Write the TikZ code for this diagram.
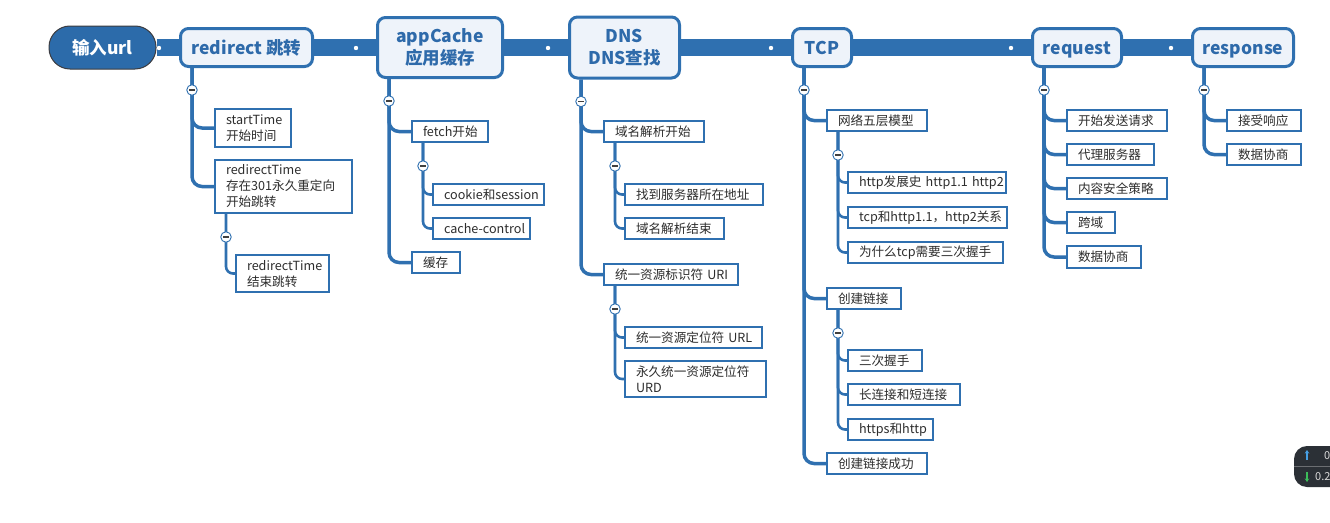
\documentclass[tikz,border=0pt]{standalone}
\usepackage{fontspec}
\setmainfont{Noto Sans CJK SC}
\usetikzlibrary{arrows.meta}
\definecolor{mblue}{RGB}{47,112,176}
\definecolor{topfill}{RGB}{238,243,250}
\definecolor{toptext}{RGB}{46,106,170}
\definecolor{rootfill}{RGB}{44,107,170}
\definecolor{rootedge}{RGB}{60,60,64}
\definecolor{leaftext}{RGB}{45,45,45}
\definecolor{widgetbg}{RGB}{43,48,54}
\definecolor{upblue}{RGB}{70,160,230}
\definecolor{downgreen}{RGB}{60,190,90}
\pgfdeclarelayer{bg}
\pgfsetlayers{bg,main}
\newcommand\leafnode[6]{\node[leaf, text width=\the\dimexpr#4pt-24pt\relax, minimum height=#5pt-2pt, anchor=north west] (#1) at (#2+1,#3+1) {#6};}
\tikzset{
  topbox/.style={rectangle, rounded corners=8pt, draw=mblue, line width=3pt, fill=topfill,
    text=toptext, font=\bfseries\fontsize{17.5}{22}\selectfont, align=center, inner sep=0pt},
  oneline/.style={text height=15pt, text depth=2pt},
  rootbox/.style={rectangle, rounded corners=21pt, draw=rootedge, line width=1pt, fill=rootfill,
    text=white, font=\bfseries\fontsize{17.5}{22}\selectfont, inner sep=0pt},
  leaf/.style={rectangle, draw=mblue, line width=2pt, fill=white, text=leaftext,
    font=\fontsize{12.6}{16}\selectfont, align=left, inner xsep=11pt, inner ysep=0pt},
  bar/.style={draw=mblue, line width=17pt},
  mbr/.style={draw=mblue, line width=3.5pt, rounded corners=10pt},
  sbr/.style={draw=mblue, line width=2.6pt, rounded corners=7pt},
  collapse/.style={circle, draw=mblue, line width=0.9pt, fill=white, minimum size=10.5pt, inner sep=0pt,
    path picture={\draw[line width=1.3pt, black!75] ([xshift=-2.8pt]path picture bounding box.center) -- ([xshift=2.8pt]path picture bounding box.center);}},
  wtext/.style={text=white!85!black, font=\fontsize{11}{13}\selectfont, inner sep=0pt, anchor=west}
}
\begin{document}
\begin{tikzpicture}[x=1pt,y=-1pt]
\useasboundingbox (0,0) rectangle (1330,522);
\clip (0,0) rectangle (1330,522);

% top-level nodes
\node[rootbox, oneline, minimum width=107pt, minimum height=43pt] (root) at (102.5,47.5) {输入url};
\node[topbox, oneline, minimum width=132pt, minimum height=38pt] (redirect) at (246.5,47.5) {redirect 跳转};
\node[topbox, minimum width=125pt, minimum height=60pt] (appcache) at (440,47.5) {appCache\\应用缓存};
\node[topbox, minimum width=110pt, minimum height=61pt] (dns) at (624.5,47.5) {DNS\\DNS查找};
\node[topbox, oneline, minimum width=59pt, minimum height=38pt] (tcp) at (822,47.5) {TCP};
\node[topbox, oneline, minimum width=89pt, minimum height=38pt] (request) at (1077,47.5) {request};
\node[topbox, oneline, minimum width=101pt, minimum height=38pt] (response) at (1243,47.5) {response};

% redirect
\leafnode{st}{213}{107}{78}{40}{startTime\\开始时间}
\leafnode{rt}{213}{158}{139}{55}{redirectTime\\存在301永久重定向\\开始跳转}
\leafnode{rte}{234}{253}{95}{39}{redirectTime\\结束跳转}
% appCache
\leafnode{fe}{410}{119}{78}{23}{fetch开始}
\leafnode{cs}{431}{182}{113}{23}{\mbox{cookie和session}}
\leafnode{cc}{431}{216}{99}{23}{\mbox{cache-control}}
\leafnode{hc}{410}{250}{50}{23}{缓存}
% DNS
\leafnode{da}{602}{119}{102}{23}{域名解析开始}
\leafnode{daa}{623}{182}{140}{23}{找到服务器所在地址}
\leafnode{dab}{623}{216}{101}{23}{域名解析结束}
\leafnode{db}{602}{262}{136}{23}{\mbox{统一资源标识符 URI}}
\leafnode{dba}{623}{325}{139}{23}{\mbox{统一资源定位符 URL}}
\leafnode{dbb}{623}{359}{143}{38}{永久统一资源定位符\\URD}
% TCP
\leafnode{ta}{825}{108}{102}{23}{网络五层模型}
\leafnode{taa}{846}{170}{160}{23}{\mbox{http发展史 http1.1 http2}}
\leafnode{tab}{846}{205}{161}{23}{\mbox{tcp和http1.1，http2关系}}
\leafnode{tac}{846}{240}{157}{23}{为什么tcp需要三次握手}
\leafnode{tb}{825}{286}{76}{23}{创建链接}
\leafnode{tba}{846}{348}{76}{23}{三次握手}
\leafnode{tbb}{846}{382}{114}{23}{长连接和短连接}
\leafnode{tbc}{846}{417}{87}{23}{\mbox{https和http}}
\leafnode{tc}{825}{451}{102}{23}{创建链接成功}
% request
\leafnode{qa}{1065}{108}{102}{23}{开始发送请求}
\leafnode{qb}{1065}{142}{89}{23}{代理服务器}
\leafnode{qc}{1065}{176}{102}{23}{内容安全策略}
\leafnode{qd}{1065}{210}{50}{23}{跨域}
\leafnode{qe}{1065}{244}{76}{24}{数据协商}
% response
\leafnode{pa}{1225}{108}{76}{23}{接受响应}
\leafnode{pb}{1225}{142}{76}{23}{数据协商}

\begin{pgfonlayer}{bg}
  \fill[white] (0,0) rectangle (1330,522);
  \draw[bar] (root.east) -- (redirect.west);
  \draw[bar] (redirect.east) -- (appcache.west);
  \draw[bar] (appcache.east) -- (dns.west);
  \draw[bar] (dns.east) -- (tcp.west);
  \draw[bar] (tcp.east) -- (request.west);
  \draw[bar] (request.east) -- (response.west);
  \foreach \dx in {159,356,548,771,1011,1171} \fill[white] (\dx,48) circle (2.2pt);

  \foreach \c in {st,rt} \draw[mbr] ([xshift=13pt]redirect.south west) |- (\c.west);
  \draw[sbr] ([xshift=12pt]rt.south west) |- (rte.west);
  \foreach \c in {fe,hc} \draw[mbr] ([xshift=13pt]appcache.south west) |- (\c.west);
  \foreach \c in {cs,cc} \draw[sbr] ([xshift=12pt]fe.south west) |- (\c.west);
  \foreach \c in {da,db} \draw[mbr] ([xshift=13pt]dns.south west) |- (\c.west);
  \foreach \c in {daa,dab} \draw[sbr] ([xshift=12pt]da.south west) |- (\c.west);
  \foreach \c in {dba,dbb} \draw[sbr] ([xshift=12pt]db.south west) |- (\c.west);
  \foreach \c in {ta,tb,tc} \draw[mbr] ([xshift=13pt]tcp.south west) |- (\c.west);
  \foreach \c in {taa,tab,tac} \draw[sbr] ([xshift=12pt]ta.south west) |- (\c.west);
  \foreach \c in {tba,tbb,tbc} \draw[sbr] ([xshift=12pt]tb.south west) |- (\c.west);
  \foreach \c in {qa,qb,qc,qd,qe} \draw[mbr] ([xshift=13pt]request.south west) |- (\c.west);
  \foreach \c in {pa,pb} \draw[mbr] ([xshift=13pt]response.south west) |- (\c.west);
\end{pgfonlayer}

% collapse markers
\node[collapse] (c1) at ([xshift=13pt,yshift=-22pt]redirect.south west) {};
\node[collapse] (c1a) at ([xshift=12pt,yshift=-23pt]rt.south west) {};
\node[collapse] (c2) at ([xshift=13pt,yshift=-22pt]appcache.south west) {};
\node[collapse] (c2a) at ([xshift=12pt,yshift=-23pt]fe.south west) {};
\node[collapse] (c3) at ([xshift=13pt,yshift=-22pt]dns.south west) {};
\node[collapse] (c3a) at ([xshift=12pt,yshift=-23pt]da.south west) {};
\node[collapse] (c3b) at ([xshift=12pt,yshift=-23pt]db.south west) {};
\node[collapse] (c4) at ([xshift=13pt,yshift=-22pt]tcp.south west) {};
\node[collapse] (c4a) at ([xshift=12pt,yshift=-23pt]ta.south west) {};
\node[collapse] (c4b) at ([xshift=12pt,yshift=-23pt]tb.south west) {};
\node[collapse] (c5) at ([xshift=13pt,yshift=-22pt]request.south west) {};
\node[collapse] (c6) at ([xshift=13pt,yshift=-22pt]response.south west) {};

% corner widget
\fill[widgetbg, rounded corners=13pt] (1294,446) rectangle (1345,487);
\draw[widgetbg!70!white, line width=0.6pt] (1294,466.5) -- (1330,466.5);
\draw[upblue, line width=1.1pt, -{Stealth[length=3.5pt,width=4.5pt]}] (1307,460) -- (1307,450);
\draw[downgreen, line width=1.1pt, -{Stealth[length=3.5pt,width=4.5pt]}] (1307,472) -- (1307,482);
\node[wtext] (w1) at (1324,456) {0};
\node[wtext] (w2) at (1315,477) {0.2};
\end{tikzpicture}
\end{document}
